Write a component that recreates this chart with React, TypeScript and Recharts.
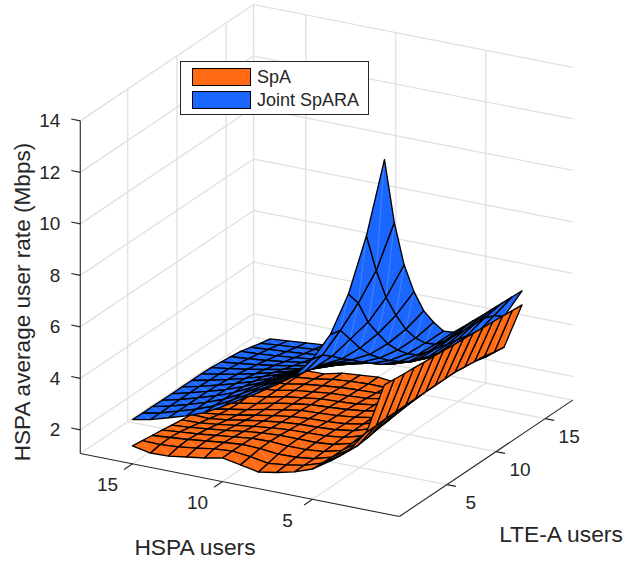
import { ScatterChart, Scatter, XAxis, YAxis } from "recharts";

const hspaUsers = [2, 3, 4, 5, 6, 7, 8, 9, 10, 11, 12, 13, 14, 15, 16];
const lteUsers = [2, 3, 4, 5, 6, 7, 8, 9, 10, 11, 12, 13, 14, 15, 16];

// rows follow hspaUsers, columns follow lteUsers
const jointRate = [
  [14.22, 11.52, 9.62, 8.32, 7.32, 6.62, 6.02, 5.72, 5.67, 5.65, 5.62, 5.6, 5.58, 5.56, 5.53],
  [11.12, 9.52, 8.22, 7.27, 6.47, 5.87, 5.42, 5.12, 5.0, 4.95, 4.9, 4.88, 4.85, 4.7, 4.4],
  [8.72, 8.12, 7.12, 6.42, 5.77, 5.27, 4.87, 4.57, 4.42, 4.32, 4.2, 4.12, 4.02, 3.85, 3.65],
  [7.02, 6.92, 6.32, 5.72, 5.22, 4.82, 4.47, 4.17, 3.92, 3.77, 3.6, 3.48, 3.36, 3.25, 3.1],
  [5.92, 5.82, 5.52, 5.17, 4.87, 4.52, 4.22, 3.92, 3.67, 3.47, 3.25, 3.08, 2.9, 2.74, 2.6],
  [5.12, 5.02, 4.92, 4.82, 4.62, 4.37, 4.12, 3.87, 3.62, 3.37, 3.12, 2.9, 2.68, 2.46, 2.25],
  [4.65, 4.62, 4.57, 4.47, 4.32, 4.12, 3.92, 3.67, 3.42, 3.17, 2.97, 2.77, 2.57, 2.37, 2.18],
  [4.2, 4.19, 4.17, 4.1, 3.97, 3.82, 3.62, 3.42, 3.22, 3.0, 2.8, 2.62, 2.42, 2.27, 2.12],
  [3.79, 3.78, 3.77, 3.72, 3.62, 3.52, 3.37, 3.17, 3.0, 2.82, 2.64, 2.48, 2.32, 2.19, 2.07],
  [3.38, 3.38, 3.38, 3.36, 3.3, 3.22, 3.12, 2.97, 2.82, 2.67, 2.52, 2.37, 2.24, 2.12, 2.02],
  [3.01, 3.02, 3.02, 3.02, 3.0, 2.94, 2.87, 2.77, 2.64, 2.52, 2.4, 2.27, 2.16, 2.06, 1.97],
  [2.75, 2.75, 2.76, 2.76, 2.74, 2.72, 2.67, 2.59, 2.5, 2.4, 2.29, 2.19, 2.09, 2.0, 1.92],
  [2.54, 2.54, 2.54, 2.54, 2.54, 2.52, 2.48, 2.43, 2.37, 2.29, 2.2, 2.12, 2.03, 1.94, 1.86],
  [2.33, 2.33, 2.34, 2.34, 2.34, 2.34, 2.32, 2.3, 2.26, 2.2, 2.13, 2.06, 1.98, 1.89, 1.8],
  [2.19, 2.18, 2.18, 2.17, 2.17, 2.17, 2.17, 2.17, 2.16, 2.12, 2.07, 2.02, 1.92, 1.82, 1.74],
];

const spaRate = [
  [5.47, 5.43, 5.39, 5.36, 5.32, 5.29, 5.26, 5.22, 5.19, 5.16, 5.12, 5.09, 5.06, 5.02, 4.99],
  [3.49, 3.5, 3.52, 3.52, 3.52, 3.52, 3.52, 3.52, 3.52, 3.52, 3.47, 3.42, 3.37, 3.27, 3.21],
  [2.63, 2.6, 2.65, 2.72, 2.77, 2.82, 2.87, 2.92, 2.97, 3.02, 3.02, 2.97, 2.92, 2.82, 2.69],
  [2.1, 2.05, 2.04, 2.07, 2.12, 2.17, 2.22, 2.27, 2.32, 2.37, 2.4, 2.4, 2.38, 2.32, 2.27],
  [1.65, 1.62, 1.6, 1.6, 1.62, 1.65, 1.68, 1.7, 1.73, 1.76, 1.8, 1.84, 1.84, 1.84, 1.82],
  [1.4, 1.4, 1.4, 1.42, 1.44, 1.46, 1.46, 1.46, 1.46, 1.46, 1.46, 1.44, 1.42, 1.38, 1.32],
  [1.24, 1.28, 1.32, 1.36, 1.38, 1.38, 1.36, 1.34, 1.34, 1.32, 1.3, 1.28, 1.24, 1.18, 1.12],
  [1.12, 1.2, 1.3, 1.36, 1.38, 1.36, 1.32, 1.28, 1.26, 1.24, 1.2, 1.16, 1.12, 1.06, 1.0],
  [1.26, 1.32, 1.38, 1.4, 1.38, 1.34, 1.3, 1.26, 1.22, 1.19, 1.15, 1.12, 1.09, 1.07, 1.08],
  [1.39, 1.4, 1.4, 1.38, 1.34, 1.28, 1.24, 1.2, 1.19, 1.15, 1.12, 1.08, 1.05, 1.03, 1.02],
  [1.25, 1.35, 1.34, 1.3, 1.26, 1.2, 1.15, 1.1, 1.07, 1.05, 1.02, 1.0, 0.98, 0.97, 0.96],
  [1.15, 1.24, 1.26, 1.22, 1.16, 1.1, 1.04, 0.98, 0.95, 0.94, 0.93, 0.92, 0.9, 0.85, 0.79],
  [1.05, 1.15, 1.18, 1.14, 1.08, 1.0, 0.92, 0.85, 0.8, 0.78, 0.78, 0.78, 0.78, 0.78, 0.78],
  [1.03, 1.1, 1.12, 1.08, 1.0, 0.92, 0.83, 0.74, 0.68, 0.66, 0.68, 0.7, 0.7, 0.72, 0.73],
  [1.17, 1.12, 1.06, 1.01, 0.95, 0.9, 0.85, 0.66, 0.55, 0.52, 0.55, 0.6, 0.65, 0.68, 0.7],
];

const hspaTicks = [5, 10, 15];
const lteTicks = [5, 10, 15];
const rateTicks = [2, 4, 6, 8, 10, 12, 14];

const USERS_MIN = 0.17;
const HSPA_MAX = 17.9;
const LTE_MAX = 17.8;
const RATE_MIN = 1.08;
const RATE_MAX = 14;

const ORANGE = "#ff6a13";
const BLUE = "#1a66ff";
const TEXT = "#262626";
const GRID = "#e0e0e0";
const FONT = "'Liberation Sans', Arial, sans-serif";

const WIDTH = 625;
const HEIGHT = 563;

// fixed view of the 3D box, one chart unit is one pixel
const project = (h: number, l: number, z: number) => ({
  px: 400.8 - 18 * h + 9.83 * l,
  py: 518.2 - 3.55 * h - 6.6 * l - 25.75 * (z - RATE_MIN),
});

const buildCells = (rates: number[][], fill: string) => {
  const cells = [];
  for (let i = 0; i < hspaUsers.length - 1; i++) {
    for (let j = 0; j < lteUsers.length - 1; j++) {
      const corners = [
        [i, j],
        [i + 1, j],
        [i + 1, j + 1],
        [i, j + 1],
      ].map(([a, b]) => project(hspaUsers[a], lteUsers[b], rates[a][b]));
      const meanH = (hspaUsers[i] + hspaUsers[i + 1]) / 2;
      const meanL = (lteUsers[j] + lteUsers[j + 1]) / 2;
      const meanZ = (rates[i][j] + rates[i + 1][j] + rates[i + 1][j + 1] + rates[i][j + 1]) / 4;
      cells.push({
        px: corners[0].px,
        py: corners[0].py,
        corners,
        fill,
        depth: meanH + meanL - 0.6 * meanZ,
      });
    }
  }
  return cells;
};

// far cells first so near ones paint over them
const surfaceCells = [...buildCells(spaRate, ORANGE), ...buildCells(jointRate, BLUE)].sort(
  (a, b) => b.depth - a.depth
);

const segment = (a: number[], b: number[], stroke: string, width = 1) => {
  const from = project(a[0], a[1], a[2]);
  const to = project(b[0], b[1], b[2]);
  return { px: from.px, py: from.py, dx: to.px - from.px, dy: to.py - from.py, stroke, width };
};

const gridSegments = [
  ...hspaTicks.flatMap((t) => [
    segment([t, USERS_MIN, RATE_MIN], [t, LTE_MAX, RATE_MIN], GRID, 1.3),
    segment([t, LTE_MAX, RATE_MIN], [t, LTE_MAX, RATE_MAX], GRID, 1.3),
  ]),
  ...lteTicks.flatMap((t) => [
    segment([USERS_MIN, t, RATE_MIN], [HSPA_MAX, t, RATE_MIN], GRID, 1.3),
    segment([HSPA_MAX, t, RATE_MIN], [HSPA_MAX, t, RATE_MAX], GRID, 1.3),
  ]),
  ...rateTicks.flatMap((t) => [
    segment([HSPA_MAX, USERS_MIN, t], [HSPA_MAX, LTE_MAX, t], GRID, 1.3),
    segment([HSPA_MAX, LTE_MAX, t], [USERS_MIN, LTE_MAX, t], GRID, 1.3),
  ]),
  segment([HSPA_MAX, USERS_MIN, RATE_MIN], [HSPA_MAX, LTE_MAX, RATE_MIN], GRID, 1.3),
  segment([HSPA_MAX, LTE_MAX, RATE_MIN], [USERS_MIN, LTE_MAX, RATE_MIN], GRID, 1.3),
  segment([HSPA_MAX, LTE_MAX, RATE_MIN], [HSPA_MAX, LTE_MAX, RATE_MAX], GRID, 1.3),
];

const axisSegments = [
  segment([USERS_MIN, USERS_MIN, RATE_MIN], [HSPA_MAX, USERS_MIN, RATE_MIN], TEXT, 1.1),
  segment([USERS_MIN, USERS_MIN, RATE_MIN], [USERS_MIN, LTE_MAX, RATE_MIN], TEXT, 1.1),
  segment([HSPA_MAX, USERS_MIN, RATE_MIN], [HSPA_MAX, USERS_MIN, RATE_MAX], TEXT, 1.1),
  ...hspaTicks.map((t) => segment([t, USERS_MIN, RATE_MIN], [t, USERS_MIN - 0.85, RATE_MIN], TEXT, 1.1)),
  ...lteTicks.map((t) => segment([USERS_MIN, t, RATE_MIN], [USERS_MIN - 0.5, t, RATE_MIN], TEXT, 1.1)),
  ...rateTicks.map((t) => segment([HSPA_MAX, USERS_MIN, t], [HSPA_MAX + 0.5, USERS_MIN, t], TEXT, 1.1)),
];

const at = (p: { px: number; py: number }, ox: number, oy: number) => ({ px: p.px + ox, py: p.py + oy });

const axisTexts = [
  ...hspaTicks.map((t) => ({ ...at(project(t, USERS_MIN, RATE_MIN), -25, 21), text: String(t), size: 19, anchor: "middle", rotate: 0 })),
  ...lteTicks.map((t) => ({ ...at(project(USERS_MIN, t, RATE_MIN), 24, 18), text: String(t), size: 19, anchor: "middle", rotate: 0 })),
  ...rateTicks.map((t) => ({ ...at(project(HSPA_MAX, USERS_MIN, t), -20, 0), text: String(t), size: 19, anchor: "end", rotate: 0 })),
  { px: 195, py: 547, text: "HSPA users", size: 22.8, anchor: "middle", rotate: 0 },
  { px: 561, py: 534, text: "LTE-A users", size: 22.8, anchor: "middle", rotate: 0 },
  { px: 22, py: 302, text: "HSPA average user rate (Mbps)", size: 22.6, anchor: "middle", rotate: -90 },
];

const legendEntries = [
  { name: "SpA", color: ORANGE },
  { name: "Joint SpARA", color: BLUE },
];

const CellShape = (props: any) => {
  const { cx, cy, payload } = props;
  const pts = payload.corners.map((c: { px: number; py: number }) => [cx + c.px - payload.px, cy + c.py - payload.py]);
  return (
    <g>
      <polygon points={pts.map((p: number[]) => p.join(",")).join(" ")} fill={payload.fill} stroke="none" />
      {/* faint seam the renderer leaves across each cell */}
      <line x1={pts[0][0]} y1={pts[0][1]} x2={pts[2][0]} y2={pts[2][1]} stroke="#fff" strokeOpacity={0.3} strokeWidth={0.6} />
      <polygon points={pts.map((p: number[]) => p.join(",")).join(" ")} fill="none" stroke="#000" strokeWidth={1.35} strokeLinejoin="round" />
    </g>
  );
};

const SegmentShape = (props: any) => {
  const { cx, cy, payload } = props;
  return (
    <line
      x1={cx}
      y1={cy}
      x2={cx + payload.dx}
      y2={cy + payload.dy}
      stroke={payload.stroke}
      strokeWidth={payload.width}
    />
  );
};

const TextShape = (props: any) => {
  const { cx, cy, payload } = props;
  return (
    <text
      x={cx}
      y={cy}
      fontSize={payload.size}
      fontFamily={FONT}
      fill={TEXT}
      textAnchor={payload.anchor}
      dominantBaseline="central"
      transform={payload.rotate ? `rotate(${payload.rotate} ${cx} ${cy})` : undefined}
    >
      {payload.text}
    </text>
  );
};

const App = () => {
  return (
    <div style={{ position: "absolute", left: 0, top: 0, width: WIDTH, height: HEIGHT, background: "#fff" }}>
      <ScatterChart width={WIDTH} height={HEIGHT} margin={{ top: 0, right: 0, bottom: 0, left: 0 }}>
        <XAxis type="number" dataKey="px" domain={[0, WIDTH]} hide />
        <YAxis type="number" dataKey="py" domain={[0, HEIGHT]} reversed hide />
        <Scatter data={gridSegments} shape={SegmentShape} isAnimationActive={false} />
        <Scatter data={axisSegments} shape={SegmentShape} isAnimationActive={false} />
        <Scatter data={surfaceCells} shape={CellShape} isAnimationActive={false} />
        <Scatter data={axisTexts} shape={TextShape} isAnimationActive={false} />
      </ScatterChart>
      <div
        style={{
          position: "absolute",
          left: 180,
          top: 61,
          width: 187,
          height: 52,
          border: `1px solid ${TEXT}`,
          background: "#fff",
          fontFamily: FONT,
          fontSize: 18,
          color: TEXT,
        }}
      >
        {legendEntries.map((entry, i) => (
          <div key={entry.name} style={{ position: "absolute", left: 11, top: 6 + i * 23, height: 18, display: "flex", alignItems: "center" }}>
            <span style={{ display: "inline-block", width: 57, height: 16, background: entry.color, border: "1px solid #000" }} />
            <span style={{ marginLeft: 6 }}>{entry.name}</span>
          </div>
        ))}
      </div>
    </div>
  );
};

export default App;
